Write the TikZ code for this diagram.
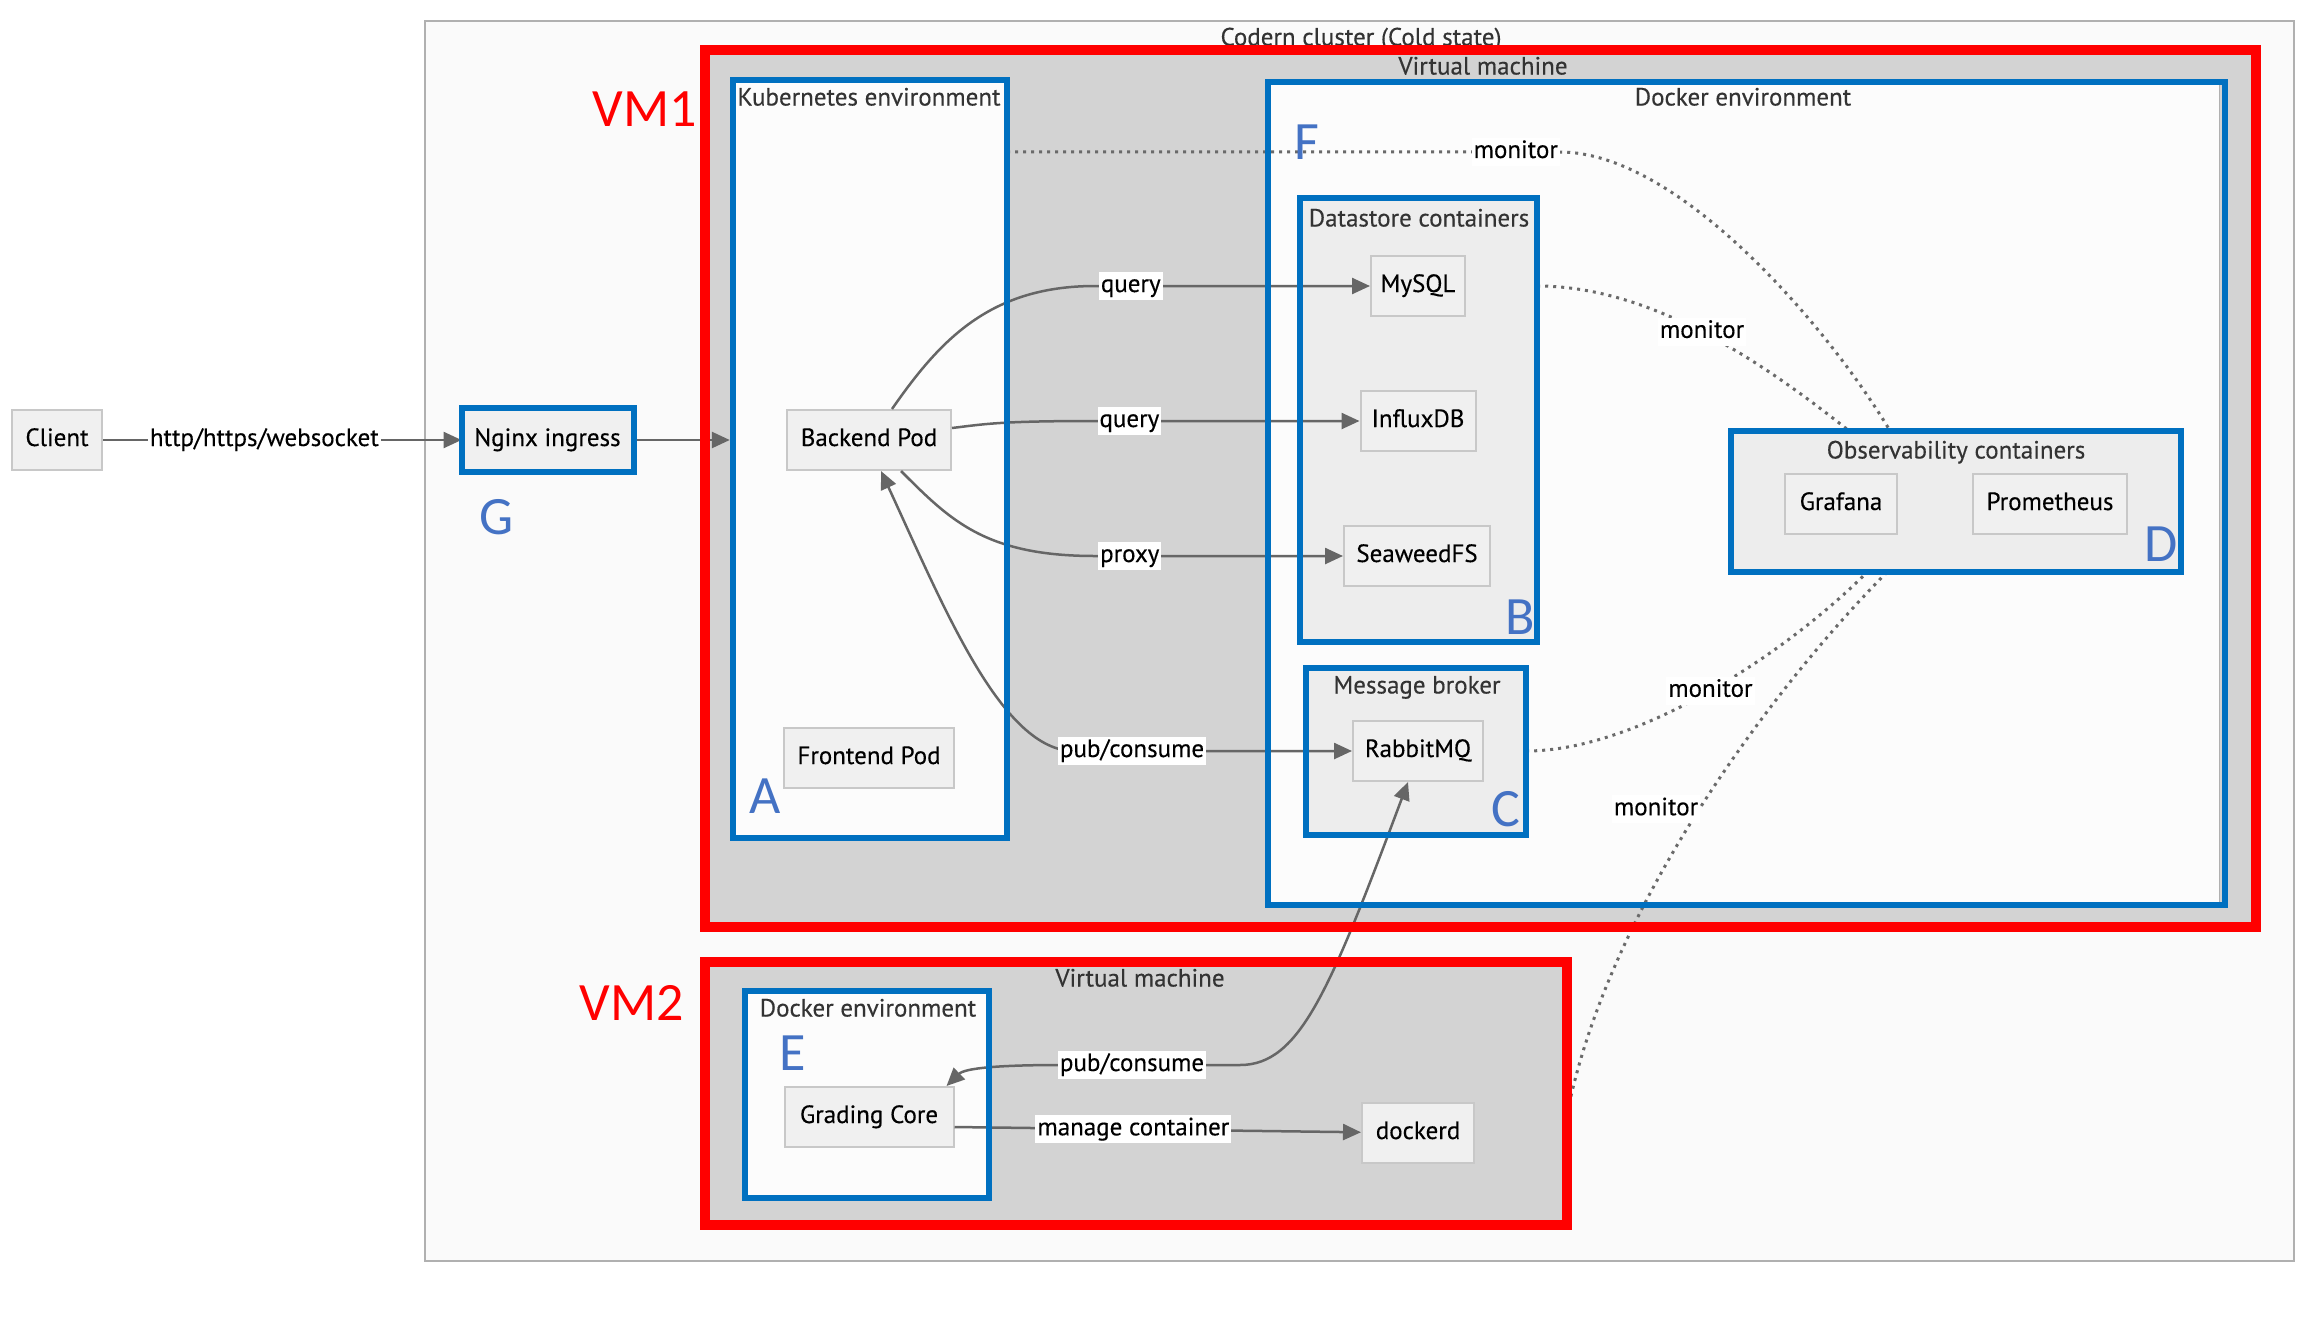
\documentclass[tikz,border=0pt]{standalone}
\usepackage{fontspec}
\setmainfont{PT Sans}[FakeBold=0.3]
\newfontfamily\markfont{Carlito}
\usetikzlibrary{positioning}
\usetikzlibrary{arrows.meta}

\definecolor{hlblue}{HTML}{0070C0}
\definecolor{hlred}{HTML}{FF0000}
\definecolor{tagblue}{HTML}{4472C4}
\definecolor{clusfill}{HTML}{FAFAFA}
\definecolor{clusline}{HTML}{B0B0B0}
\definecolor{vmgray}{HTML}{D3D3D3}
\definecolor{envfill}{HTML}{FCFCFC}
\definecolor{boxfill}{HTML}{EDEDED}
\definecolor{nodefill}{HTML}{F0F0F0}
\definecolor{nodeline}{HTML}{C8C8C8}
\definecolor{edgegray}{HTML}{666666}
\definecolor{mongray}{HTML}{6A6A6A}
\definecolor{titlegray}{HTML}{333333}

\begin{document}
\begin{tikzpicture}[x=1pt,y=-1pt,
  every node/.style={font=\fontsize{25}{29}\selectfont},
  svc/.style={rectangle,draw=nodeline,line width=2pt,fill=nodefill,minimum height=60pt,inner sep=0pt,text height=17pt,text depth=5pt},
  clus/.style={rectangle,inner sep=0pt},
  ctitle/.style={text=titlegray,inner sep=0pt,text height=17pt,text depth=0pt},
  elabel/.style={fill=white,inner sep=2pt,text height=18pt,text depth=6pt},
  flow/.style={draw=edgegray,line width=2.5pt,-{Triangle[length=18pt,width=16pt]}},
  flowboth/.style={flow,{Triangle[length=18pt,width=16pt]}-{Triangle[length=18pt,width=16pt]}},
  mon/.style={draw=mongray,line width=3pt,dash pattern=on 3pt off 5pt},
  hlb/.style={draw=hlblue,line width=6pt},
  hlr/.style={draw=hlred,line width=10pt},
  tag/.style={font=\markfont\fontsize{54}{60}\selectfont,text=tagblue,inner sep=0pt},
  vmtag/.style={tag,text=hlred}]

\fill[white] (0,0) rectangle (2308,1326);
\useasboundingbox (0,0) rectangle (2308,1326);

% clusters
\node[clus,draw=clusline,line width=2pt,fill=clusfill,minimum width=1869pt,minimum height=1240pt] (codern) at (1359.5,641) {};
\node[clus,fill=vmgray,minimum width=1551pt,minimum height=877pt] (vm1) at (1480.5,488.5) {};
\node[clus,fill=vmgray,minimum width=862pt,minimum height=263pt] (vm2) at (1136,1093.5) {};
\node[clus,fill=envfill,minimum width=274pt,minimum height=758pt] (k8s) at (870,459) {};
\node[clus,fill=envfill,draw=clusline,minimum width=951pt,minimum height=823pt] (dockvm1) at (1743.5,493.5) {};
\node[clus,fill=boxfill,minimum width=237pt,minimum height=444pt] (datastore) at (1418.5,420) {};
\node[clus,fill=boxfill,minimum width=220pt,minimum height=167pt] (broker) at (1416,751.5) {};
\node[clus,fill=boxfill,minimum width=450pt,minimum height=141pt] (obs) at (1956,501.5) {};
\node[clus,fill=envfill,minimum width=244pt,minimum height=207pt] (dockvm2) at (867,1094.5) {};

\node[ctitle] (tcodern) at (1361,37)  {Codern cluster (Cold state)};
\node[ctitle] (tvm1)    at (1483,66)  {Virtual machine};
\node[ctitle] (tk8s)    at (869,97)   {Kubernetes environment};
\node[ctitle] (tdock1)  at (1743,97)  {Docker environment};
\node[ctitle] (tdata)   at (1419,218) {Datastore containers};
\node[ctitle] (tbroker) at (1417,685) {Message broker};
\node[ctitle] (tobs)    at (1956,450) {Observability containers};
\node[ctitle] (tvm2)    at (1140,978) {Virtual machine};
\node[ctitle] (tdock2)  at (868,1008) {Docker environment};

% services
\node[svc,minimum width=90pt]  (client)   at (57,440)    {Client};
\node[svc,minimum width=170pt,minimum height=62pt] (nginx) at (547.5,440) {Nginx ingress};
\node[svc,minimum width=164pt] (backend)  at (869,440)   {Backend Pod};
\node[svc,minimum width=170pt] (frontend) at (869,758)   {Frontend Pod};
\node[svc,minimum width=94pt]  (mysql)    at (1418,286)  {MySQL};
\node[svc,minimum width=115pt] (influx)   at (1418,421)  {InfluxDB};
\node[svc,minimum width=146pt] (seaweed)  at (1417,556)  {SeaweedFS};
\node[svc,minimum width=130pt] (rabbit)   at (1418,751)  {RabbitMQ};
\node[svc,minimum width=112pt] (grafana)  at (1841,504)  {Grafana};
\node[svc,minimum width=154pt] (prom)     at (2050,504)  {Prometheus};
\node[svc,minimum width=169pt] (grading)  at (869,1117)  {Grading Core};
\node[svc,minimum width=112pt] (dockerd)  at (1418,1133) {dockerd};

% requests
\draw[flow] (client) -- node[elabel,pos=0.45]{http/https/websocket} (nginx);
\draw[flow,shorten >=3pt] (nginx) -- (nginx -| k8s.west);

\draw[flow] ([xshift=23pt]backend.north) .. controls (940,340) and (990,286) .. (1095,286) -- node[elabel,pos=0.13]{query} (mysql);
\draw[flow] ([yshift=12pt]backend.east) .. controls (985,424) and (1000,421) .. (1095,421) -- node[elabel,pos=0.13]{query} (influx);
\draw[flow] ([xshift=32pt]backend.south) .. controls (950,520) and (985,556) .. (1095,556) -- node[elabel,pos=0.14]{proxy} (seaweed);
\draw[flowboth] ([xshift=12pt]backend.south) .. controls (945,610) and (1000,745) .. (1070,751) -- node[elabel,pos=0.22]{pub/consume} (rabbit);

\draw[flowboth] ([xshift=-8pt]grading.north east) .. controls (965,1068) and (1000,1065) .. (1060,1065) -- node[elabel,pos=0.4]{pub/consume} (1240,1065) .. controls (1300,1065) and (1330,990) .. ([xshift=-10pt]rabbit.south);
\draw[flow] ([yshift=-10pt]grading.east) -- node[elabel,pos=0.44]{manage container} (dockerd);

% monitoring
\draw[mon] ([yshift=-72pt]k8s.north east) -- node[elabel,pos=0.92]{monitor} (1560,152) .. controls (1680,152) and (1830,330) .. ([xshift=-66pt]obs.north);
\draw[mon] (datastore.east |- mysql) .. controls (1650,286) and (1760,360) .. ([xshift=-107pt]obs.north) node[elabel,pos=0.5]{monitor};
\draw[mon] (broker.east |- rabbit) .. controls (1640,751) and (1790,650) .. ([xshift=-89pt]obs.south) node[elabel,pos=0.5]{monitor};
\draw[mon] ([xshift=-69pt]obs.south) .. controls (1780,680) and (1610,900) .. ([yshift=-20pt]vm2.east) node[elabel,pos=0.5,xshift=-47pt,yshift=-6pt]{monitor};

% marks
\draw[hlr] (vm1.north west) rectangle (vm1.south east);
\draw[hlr] (vm2.north west) rectangle (vm2.south east);
\draw[hlb] (k8s.north west) rectangle (k8s.south east);
\draw[hlb] (dockvm1.north west) rectangle ([xshift=6pt]dockvm1.south east);
\draw[hlb] (datastore.north west) rectangle (datastore.south east);
\draw[hlb] (broker.north west) rectangle (broker.south east);
\draw[hlb] (obs.north west) rectangle (obs.south east);
\draw[hlb] (dockvm2.north west) rectangle (dockvm2.south east);
\draw[hlb] (nginx.north west) rectangle (nginx.south east);

\node[tag] (tagA) at (765,796)  {A};
\node[tag] (tagB) at (1520,617) {B};
\node[tag] (tagC) at (1506,809) {C};
\node[tag] (tagD) at (2161,544) {D};
\node[tag] (tagE) at (793,1053) {E};
\node[tag] (tagF) at (1307,142) {F};
\node[tag] (tagG) at (497,517)  {G};
\node[vmtag] (tagvm1) at (645,109)  {VM1};
\node[vmtag] (tagvm2) at (632,1003) {VM2};

\end{tikzpicture}
\end{document}
